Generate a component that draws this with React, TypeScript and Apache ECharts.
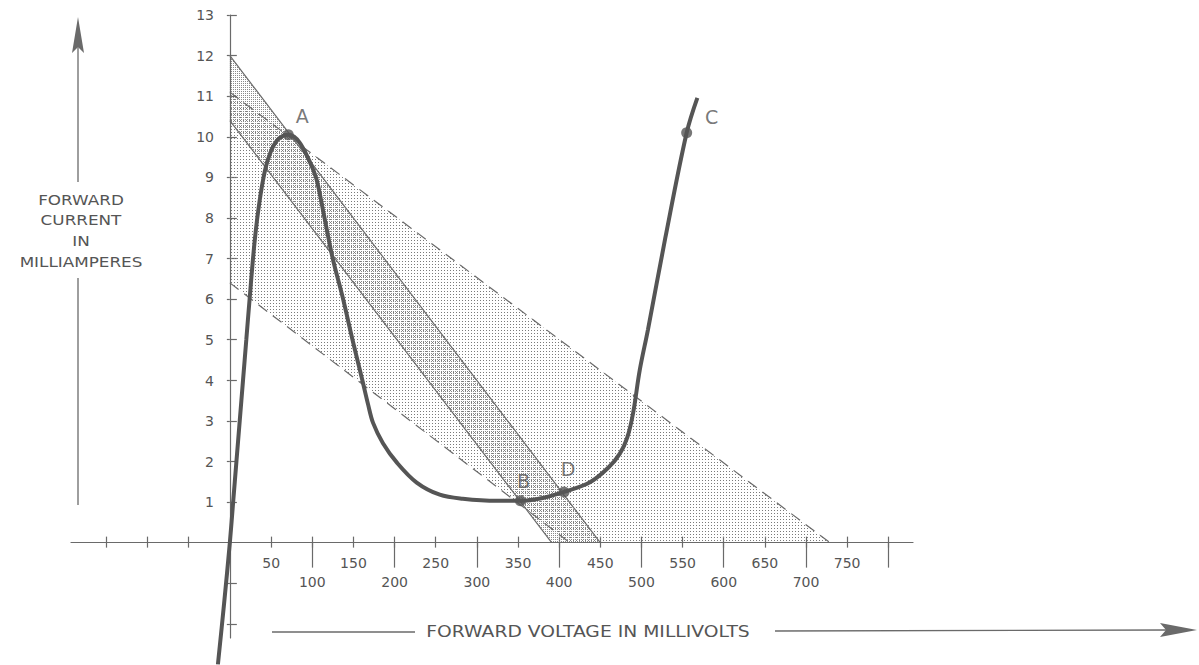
import React, { useEffect, useRef } from "react";
import * as echarts from "echarts";

// ---- tick values ----
const xSmallTicks = [-150, -100, -50, 50, 100, 150, 200, 250, 300, 350, 400, 450, 500, 550, 600, 650, 700, 750, 800];
const xLongTicks = [100, 200, 300, 400, 500, 600, 700, 800];
const xTickLabels = [50, 100, 150, 200, 250, 300, 350, 400, 450, 500, 550, 600, 650, 700, 750];
const yTicks = [-2, -1, 1, 2, 3, 4, 5, 6, 7, 8, 9, 10, 11, 12, 13];
const yTickLabels = [1, 2, 3, 4, 5, 6, 7, 8, 9, 10, 11, 12, 13];

// ---- diode characteristic (mV, mA) ----
const curveMv = [-14.5, -7, 0, 4, 8, 12, 16, 20, 24, 30, 36, 43, 50, 57, 64, 71, 78, 85, 92, 100, 106, 115, 125, 137, 149, 161, 168, 174, 186, 203, 227, 255, 283, 325, 353, 380, 406, 437, 460, 474, 483, 490, 498, 508, 529, 555, 568];
const curveMa = [-3.0, -1.5, 0, 1.0, 2.0, 3.0, 4.0, 5.0, 6.0, 7.4, 8.4, 9.2, 9.65, 9.9, 10.02, 10.05, 10.0, 9.85, 9.6, 9.25, 8.9, 8.0, 7.0, 6.05, 5.0, 4.0, 3.4, 2.95, 2.45, 1.97, 1.48, 1.18, 1.08, 1.03, 1.03, 1.1, 1.25, 1.48, 1.85, 2.2, 2.6, 3.2, 4.25, 5.25, 7.5, 10.1, 10.96];

// ---- load lines: [mV, mA] end points ----
const outerSolidLine = [[0, 12], [450, 0]];
const innerSolidLine = [[0, 10.4], [391, 0]];
const upperDashedLine = [[0, 11.1], [729, 0]];
const lowerDashedLine = [[0, 6.4], [413, 0]];

// ---- operating points ----
const pointNames = ["A", "B", "D", "C"];
const pointMv = [71, 353, 406, 555];
const pointMa = [10.05, 1.03, 1.25, 10.1];

const INK = "#555555";
const LINE = "#6a6a6a";
const FONT = "DejaVu Sans";

function dotPattern(size: number, rects: string) {
  const svg = `<svg xmlns="http://www.w3.org/2000/svg" width="${size}" height="${size}">${rects}</svg>`;
  return {
    image: "data:image/svg+xml;charset=utf-8," + encodeURIComponent(svg),
    repeat: "repeat",
    imageWidth: size,
    imageHeight: size,
  };
}

export default function App() {
  const ref = useRef<HTMLDivElement>(null);

  useEffect(() => {
    if (!ref.current) return;
    const chart = echarts.init(ref.current, null, { renderer: "svg" });

    const lightPoly = [upperDashedLine[0], upperDashedLine[1], lowerDashedLine[1], lowerDashedLine[0]];
    const densePoly = [outerSolidLine[0], outerSolidLine[1], innerSolidLine[1], innerSolidLine[0]];
    const lightFill = dotPattern(3, '<rect x="0" y="0" width="1" height="1" fill="#7a7a7a"/>');
    const denseFill = dotPattern(2, '<rect x="1" y="1" width="1" height="1" fill="#8a8a8a"/>');

    const labelOffsets: Record<string, number[]> = { A: [14, -19], B: [3, -20], D: [4, -23], C: [25, -16] };

    const polySeries = (poly: number[][], fill: any, z: number) => ({
      type: "custom",
      z,
      silent: true,
      data: [[0, 0]],
      encode: { x: 0, y: 1 },
      renderItem: (_p: any, api: any) => ({
        type: "polygon",
        shape: { points: poly.map((pt) => api.coord(pt)) },
        style: { fill, stroke: "none" },
      }),
    });

    const loadLine = (pts: number[][], dashed: boolean) => ({
      type: "line",
      z: 3,
      data: pts,
      showSymbol: false,
      silent: true,
      lineStyle: { color: LINE, width: 1.2, type: dashed ? [11, 7] : "solid" },
    });

    const xBase = {
      type: "value",
      gridIndex: 0,
      min: -193,
      max: 830,
      splitLine: { show: false },
      axisLabel: { show: false },
      axisLine: { onZero: true, onZeroAxisIndex: 0, lineStyle: { color: LINE, width: 1.2 } },
    };
    const yBase = {
      type: "value",
      gridIndex: 0,
      min: -2.35,
      max: 13,
      splitLine: { show: false },
      axisLabel: { show: false },
      axisLine: { onZero: true, onZeroAxisIndex: 0, lineStyle: { color: LINE, width: 1.2 } },
    };
    const tickStyle = { color: LINE, width: 1.2 };

    chart.setOption({
      animation: false,
      backgroundColor: "#ffffff",
      grid: [
        { left: 71, right: 286, top: 15, bottom: 27, containLabel: false, outerBoundsMode: "none" },
        // label grid: its left/bottom edges sit on the zero lines of the main grid
        { left: 230, right: 286, top: 15, bottom: 122, containLabel: false, outerBoundsMode: "none" },
      ],
      xAxis: [
        {
          ...xBase,
          position: "top",
          axisTick: { show: true, customValues: xSmallTicks, length: 6, lineStyle: tickStyle },
        },
        {
          ...xBase,
          position: "bottom",
          axisLine: { ...xBase.axisLine, show: false },
          axisTick: { show: true, customValues: xSmallTicks, length: 5, lineStyle: tickStyle },
        },
        {
          ...xBase,
          position: "bottom",
          axisLine: { ...xBase.axisLine, show: false },
          axisTick: { show: true, customValues: xLongTicks, length: 25, lineStyle: tickStyle },
        },
        {
          type: "value",
          gridIndex: 1,
          position: "bottom",
          min: 0,
          max: 830,
          splitLine: { show: false },
          axisLine: { show: false, onZero: false },
          axisTick: { show: false },
          axisLabel: {
            show: true,
            customValues: xTickLabels,
            margin: 10,
            fontSize: 14,
            lineHeight: 19,
            color: INK,
            fontFamily: FONT,
            formatter: (v: number) => ((v / 50) % 2 === 1 ? String(v) : "\n" + v),
          },
        },
      ],
      yAxis: [
        {
          ...yBase,
          position: "left",
          axisTick: { show: true, inside: true, customValues: yTicks, length: 7, lineStyle: tickStyle },
        },
        {
          ...yBase,
          position: "left",
          axisLine: { ...yBase.axisLine, show: false },
          axisTick: { show: true, customValues: yTicks, length: 3, lineStyle: tickStyle },
        },
        {
          type: "value",
          gridIndex: 1,
          position: "left",
          min: 0,
          max: 13,
          splitLine: { show: false },
          axisLine: { show: false, onZero: false },
          axisTick: { show: false },
          axisLabel: {
            show: true,
            customValues: yTickLabels,
            margin: 16,
            fontSize: 14,
            color: INK,
            fontFamily: FONT,
          },
        },
      ],
      series: [
        polySeries(lightPoly, lightFill, 1),
        polySeries(densePoly, denseFill, 2),
        loadLine(outerSolidLine, false),
        loadLine(innerSolidLine, false),
        loadLine(upperDashedLine, true),
        loadLine(lowerDashedLine, true),
        {
          type: "line",
          z: 4,
          clip: false,
          smooth: 0.35,
          showSymbol: false,
          silent: true,
          data: curveMv.map((v, i) => [v, curveMa[i]]),
          lineStyle: { color: INK, width: 4 },
        },
        {
          type: "scatter",
          z: 5,
          symbol: "circle",
          symbolSize: 11,
          itemStyle: { color: INK },
          data: pointNames.map((n, i) => ({
            name: n,
            value: [pointMv[i], pointMa[i]],
            label: { offset: labelOffsets[n] },
          })),
          label: {
            show: true,
            position: "inside",
            formatter: (p: any) => p.name,
            fontSize: 19,
            color: INK,
            fontFamily: FONT,
          },
        },
      ],
      graphic: [
        // y-axis title with arrow
        { type: "line", shape: { x1: 78, y1: 505, x2: 78, y2: 278 }, style: { stroke: LINE, lineWidth: 1.3 } },
        { type: "line", shape: { x1: 78, y1: 182, x2: 78, y2: 45 }, style: { stroke: LINE, lineWidth: 1.3 } },
        { type: "polygon", shape: { points: [[78, 17], [84, 53], [78, 47], [72, 53]] }, style: { fill: LINE } },
        ...["FORWARD", "CURRENT", "IN", "MILLIAMPERES"].map((t, i) => ({
          type: "text",
          x: 81,
          y: [200, 220, 241, 262][i],
          scaleX: 1.2,
          style: { text: t, fontSize: 14, fontFamily: FONT, fill: INK, align: "center", verticalAlign: "middle" },
        })),
        // x-axis title with arrow
        { type: "line", shape: { x1: 272, y1: 632, x2: 415, y2: 632 }, style: { stroke: LINE, lineWidth: 1.3 } },
        {
          type: "text",
          x: 588,
          y: 632,
          scaleX: 1.25,
          style: {
            text: "FORWARD VOLTAGE IN MILLIVOLTS",
            fontSize: 15,
            fontFamily: FONT,
            fill: INK,
            align: "center",
            verticalAlign: "middle",
          },
        },
        { type: "line", shape: { x1: 775, y1: 631, x2: 1168, y2: 630 }, style: { stroke: LINE, lineWidth: 1.3 } },
        { type: "polygon", shape: { points: [[1197, 630], [1160, 623], [1166, 630], [1160, 637]] }, style: { fill: LINE } },
      ],
    });

    return () => chart.dispose();
  }, []);

  return <div ref={ref} style={{ position: "absolute", left: 0, top: 0, width: 1199, height: 665 }} />;
}
